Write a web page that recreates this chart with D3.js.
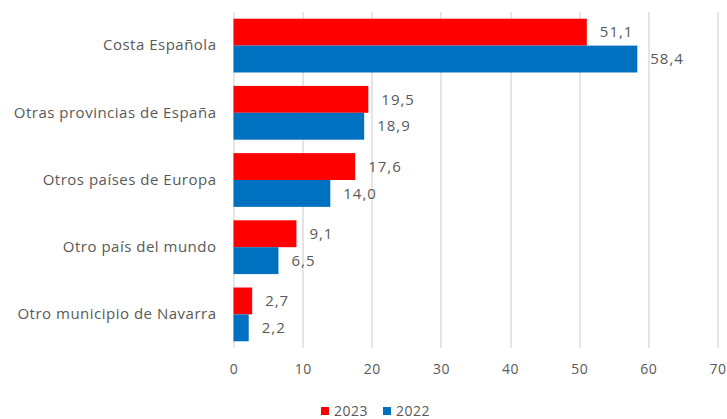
<!DOCTYPE html>
<html>
<head>
<meta charset="utf-8">
<script src="https://cdn.jsdelivr.net/npm/d3@7"></script>
<style>
  body { margin: 0; background: #fff; }
  text { font-family: "Open Sans", sans-serif; fill: #595959; }
</style>
</head>
<body>
<div id="chart"></div>
<script>
// data
const categories = ['Costa Española', 'Otras provincias de España', 'Otros países de Europa', 'Otro país del mundo', 'Otro municipio de Navarra'];
const series = ['2023', '2022'];
const values2023 = [51.1, 19.5, 17.6, 9.1, 2.7];
const values2022 = [58.4, 18.9, 14.0, 6.5, 2.2];
const xTicks = [0, 10, 20, 30, 40, 50, 60, 70];
const colors = { '2023': '#FF0000', '2022': '#0070C0' };

const FIGURE = { WIDTH: 727, HEIGHT: 419 };
const MARGINS = { LEFT: 233.5, TOP: 12, RIGHT: 9.5, BOTTOM: 71 };
const PLOT = {
    WIDTH: FIGURE.WIDTH - MARGINS.LEFT - MARGINS.RIGHT,
    HEIGHT: FIGURE.HEIGHT - MARGINS.TOP - MARGINS.BOTTOM
};

const rows = categories.map((c, i) => ({ cat: c, '2023': values2023[i], '2022': values2022[i] }));

const x = d3.scaleLinear().domain([0, 70]).range([0, PLOT.WIDTH]);
const y = d3.scaleBand().domain(categories).range([0, PLOT.HEIGHT]).paddingInner(0.2).paddingOuter(0.1);
const ySub = d3.scaleBand().domain(series).range([0, y.bandwidth()]);

const fmt = v => d3.format('.1f')(v).replace('.', ',');

const svg = d3.select('#chart').append('svg')
    .attr('width', FIGURE.WIDTH)
    .attr('height', FIGURE.HEIGHT);

const plot = svg.append('g')
    .attr('transform', `translate(${MARGINS.LEFT}, ${MARGINS.TOP})`);

// grid
plot.append('g')
    .selectAll('line')
    .data(xTicks)
    .enter()
    .append('line')
        .attr('x1', d => Math.round(x(d)) + 0.5)
        .attr('x2', d => Math.round(x(d)) + 0.5)
        .attr('y1', 0)
        .attr('y2', PLOT.HEIGHT)
        .attr('stroke', '#cccccc')
        .attr('stroke-width', 1);

// x axis labels
const xAxis = d3.axisBottom(x).tickValues(xTicks).tickSize(0).tickPadding(16);
plot.append('g')
    .attr('transform', `translate(0, ${PLOT.HEIGHT})`)
    .call(xAxis)
    .call(g => g.select('.domain').remove())
    .call(g => g.selectAll('text')
        .style('font-family', '"Open Sans", sans-serif')
        .style('font-size', '14px')
        .style('letter-spacing', '0.5px')
        .attr('fill', '#595959'));

// y axis labels
const yAxis = d3.axisLeft(y).tickSize(0).tickPadding(17);
plot.append('g')
    .call(yAxis)
    .call(g => g.select('.domain').remove())
    .call(g => g.selectAll('text')
        .style('font-family', '"Open Sans", sans-serif')
        .style('font-size', '15px')
        .style('letter-spacing', '0.5px')
        .attr('fill', '#595959'));

// bars
const groups = plot.append('g')
    .selectAll('g')
    .data(rows)
    .enter()
    .append('g')
        .attr('transform', d => `translate(0, ${y(d.cat)})`);

groups.selectAll('rect')
    .data(d => series.map(s => ({ s: s, v: d[s] })))
    .enter()
    .append('rect')
        .attr('x', 0)
        .attr('y', d => ySub(d.s))
        .attr('width', d => x(d.v))
        .attr('height', ySub.bandwidth())
        .attr('fill', d => colors[d.s]);

groups.selectAll('text.val')
    .data(d => series.map(s => ({ s: s, v: d[s] })))
    .enter()
    .append('text')
        .attr('class', 'val')
        .attr('x', d => x(d.v) + 13)
        .attr('y', d => ySub(d.s) + ySub.bandwidth() / 2)
        .attr('dy', '0.35em')
        .style('font-size', '15px')
        .style('letter-spacing', '1px')
        .text(d => fmt(d.v));

// legend
const legend = svg.append('g')
    .attr('transform', 'translate(321, 411)');
const items = legend.selectAll('g')
    .data(series)
    .enter()
    .append('g')
        .attr('transform', (d, i) => `translate(${i * 62}, 0)`);
items.append('rect')
    .attr('x', 0)
    .attr('y', -4)
    .attr('width', 8)
    .attr('height', 8)
    .attr('fill', d => colors[d]);
items.append('text')
    .attr('x', 13)
    .attr('y', 0)
    .attr('dy', '0.35em')
    .style('font-size', '14px')
    .style('letter-spacing', '0.5px')
    .text(d => d);
</script>
</body>
</html>
